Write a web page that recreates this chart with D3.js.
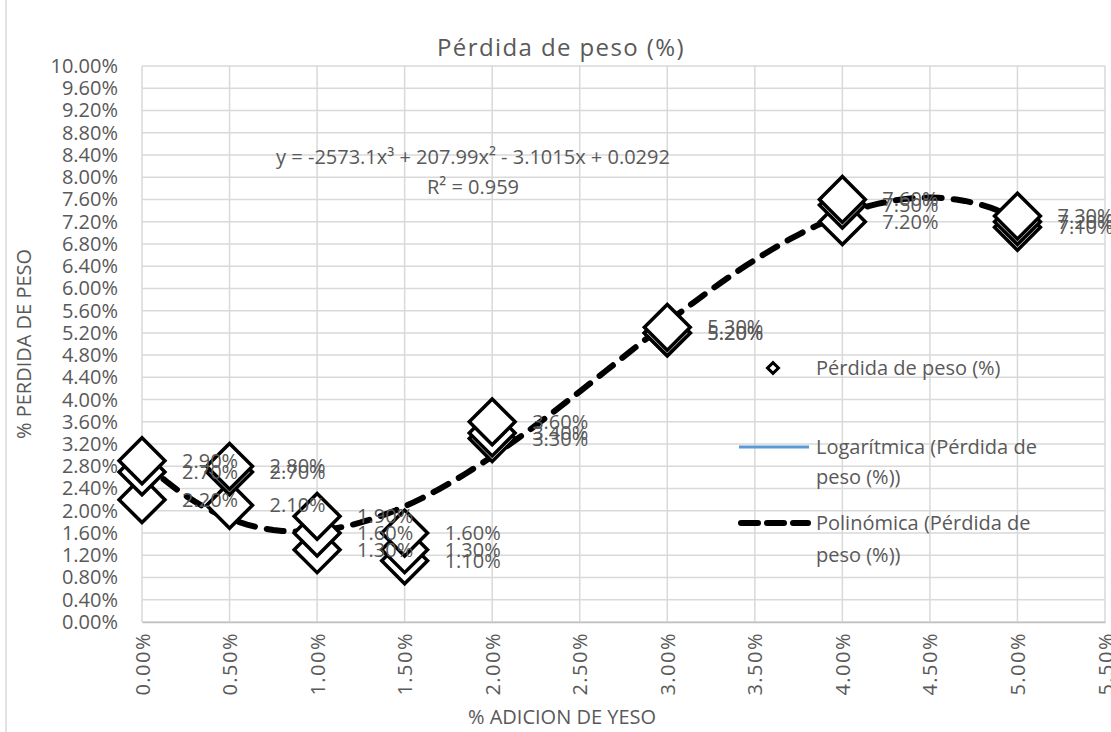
<!DOCTYPE html>
<html>
<head>
<meta charset="utf-8">
<script src="https://cdn.jsdelivr.net/npm/d3@7"></script>
<style>
  body { margin: 0; background: #fff; }
  svg { display: block; font-family: "Open Sans", sans-serif; }
</style>
</head>
<body>
<div id="chart"></div>
<script>
// data
const adicion = [0, 0.005, 0.01, 0.015, 0.02, 0.03, 0.04, 0.05];
const ensayo1 = [0.022, 0.021, 0.013, 0.011, 0.033, 0.052, 0.072, 0.071];
const ensayo2 = [0.027, 0.027, 0.016, 0.013, 0.034, 0.052, 0.075, 0.072];
const ensayo3 = [0.029, 0.028, 0.019, 0.016, 0.036, 0.053, 0.076, 0.073];
const yTicks = d3.range(0, 0.1001, 0.004);
const xTicks = d3.range(0, 0.0551, 0.005);
// trendline coefficients (c0 + c1 x + c2 x^2 + c3 x^3), from the chart label
const polyCoef = [0.0292, -3.1015, 207.99, -2573.1];
const equation = "y = -2573.1x³ + 207.99x² - 3.1015x + 0.0292";
const rSquared = "R² = 0.959";

// constants
const w = 1111;
const h = 732;
const plotLeft = 142, plotRight = 1105, plotTop = 66, plotBottom = 622;
const textColor = "#595959";
const gridColor = "#d9d9d9";
const pct = d3.format(".2%");

const points = [];
[ensayo1, ensayo2, ensayo3].forEach((s) => {
  s.forEach((v, i) => points.push([adicion[i], v]));
});

const svg = d3.select("#chart").append("svg").attr("width", w).attr("height", h);

// scales
const xScale = d3.scaleLinear().domain([0, 0.055]).range([plotLeft, plotRight]);
const yScale = d3.scaleLinear().domain([0, 0.1]).range([plotBottom, plotTop]);

// left border
svg.append("line")
  .attr("x1", 6).attr("x2", 6).attr("y1", 0).attr("y2", h)
  .attr("stroke", gridColor).attr("stroke-width", 1.5);

// grid
svg.append("g")
  .selectAll("line")
  .data(yTicks)
  .enter()
  .append("line")
  .attr("x1", plotLeft).attr("x2", plotRight)
  .attr("y1", (d) => yScale(d)).attr("y2", (d) => yScale(d))
  .attr("stroke", gridColor).attr("stroke-width", 1.5);
svg.append("g")
  .selectAll("line")
  .data(xTicks)
  .enter()
  .append("line")
  .attr("x1", (d) => xScale(d)).attr("x2", (d) => xScale(d))
  .attr("y1", plotTop).attr("y2", plotBottom)
  .attr("stroke", gridColor).attr("stroke-width", 1.5);

// axes
const yAxis = d3.axisLeft(yScale).tickValues(yTicks).tickFormat(pct).tickSize(0).tickPadding(24);
svg.append("g")
  .attr("transform", `translate(${plotLeft},0)`)
  .call(yAxis)
  .call((g) => g.select(".domain").remove())
  .selectAll("text")
  .attr("fill", textColor)
  .style("font-size", "20px")
  .style("font-family", "Open Sans");

const xAxis = d3.axisBottom(xScale).tickValues(xTicks).tickFormat(pct).tickSize(0);
const xg = svg.append("g")
  .attr("transform", `translate(0,${plotBottom})`)
  .call(xAxis);
xg.select(".domain").attr("stroke", "#bfbfbf").attr("stroke-width", 1.5);
xg.selectAll("text")
  .attr("fill", textColor)
  .style("font-size", "20px")
  .style("font-family", "Open Sans")
  .style("letter-spacing", "1.5px")
  .attr("text-anchor", "end")
  .attr("dy", "0.35em")
  .attr("transform", "translate(0,10) rotate(-90)")
  .attr("x", 0).attr("y", 0);

// trend line
const curveX = d3.range(0, 0.05001, 0.0005);
const poly = (x) => polyCoef[0] + polyCoef[1] * x + polyCoef[2] * x * x + polyCoef[3] * x * x * x;
svg.append("path")
  .datum(curveX)
  .attr("d", d3.line().x((d) => xScale(d)).y((d) => yScale(poly(d))))
  .attr("fill", "none")
  .attr("stroke", "#000")
  .attr("stroke-width", 6)
  .attr("stroke-linecap", "round")
  .attr("stroke-dasharray", "17,12");

// markers
const diamond = d3.symbol().type(d3.symbolSquare).size(1050);
svg.append("g")
  .selectAll("path")
  .data(points)
  .enter()
  .append("path")
  .attr("d", diamond)
  .attr("transform", (d) => `translate(${xScale(d[0])},${yScale(d[1])}) rotate(45)`)
  .attr("fill", "#fff")
  .attr("stroke", "#000")
  .attr("stroke-width", 3.5);

// data labels
svg.append("g")
  .selectAll("text")
  .data(points)
  .enter()
  .append("text")
  .attr("x", (d) => xScale(d[0]) + 40)
  .attr("y", (d) => yScale(d[1]))
  .attr("dy", "0.35em")
  .attr("fill", textColor)
  .style("font-size", "20px")
  .text((d) => pct(d[1]));

// title
svg.append("text")
  .attr("x", 561).attr("y", 48)
  .attr("dy", "0.35em")
  .attr("text-anchor", "middle")
  .attr("fill", textColor)
  .style("font-size", "24px")
  .style("letter-spacing", "1.4px")
  .text("Pérdida de peso (%)");

// axis titles
svg.append("text")
  .attr("transform", "translate(24,344) rotate(-90)")
  .attr("text-anchor", "middle")
  .attr("dy", "0.35em")
  .attr("fill", textColor)
  .style("font-size", "20px")
  .text("% PERDIDA DE PESO");
svg.append("text")
  .attr("x", 562).attr("y", 717)
  .attr("text-anchor", "middle")
  .attr("dy", "0.35em")
  .attr("fill", textColor)
  .style("font-size", "20px")
  .text("% ADICION DE YESO");

// equation
svg.append("text")
  .attr("x", 473).attr("y", 157)
  .attr("text-anchor", "middle")
  .attr("dy", "0.35em")
  .attr("fill", textColor)
  .style("font-size", "20px")
  .text(equation);
svg.append("text")
  .attr("x", 473).attr("y", 187)
  .attr("text-anchor", "middle")
  .attr("dy", "0.35em")
  .attr("fill", textColor)
  .style("font-size", "20px")
  .text(rSquared);

// legend
const legend = svg.append("g").attr("transform", "translate(738,0)");
legend.append("path")
  .attr("d", d3.symbol().type(d3.symbolSquare).size(60))
  .attr("transform", "translate(35,368) rotate(45)")
  .attr("fill", "#fff").attr("stroke", "#000").attr("stroke-width", 3);
legend.append("line")
  .attr("x1", 1).attr("x2", 71).attr("y1", 447).attr("y2", 447)
  .attr("stroke", "#5b9bd5").attr("stroke-width", 3);
legend.append("line")
  .attr("x1", 3).attr("x2", 70).attr("y1", 523).attr("y2", 523)
  .attr("stroke", "#000").attr("stroke-width", 6)
  .attr("stroke-linecap", "round").attr("stroke-dasharray", "17,9");
const legendText = [
  ["Pérdida de peso (%)", 368],
  ["Logarítmica (Pérdida de", 447],
  ["peso (%))", 477],
  ["Polinómica (Pérdida de", 523],
  ["peso (%))", 555],
];
legend.selectAll("text.lg")
  .data(legendText)
  .enter()
  .append("text")
  .attr("class", "lg")
  .attr("x", 78)
  .attr("y", (d) => d[1])
  .attr("dy", "0.35em")
  .attr("fill", textColor)
  .style("font-size", "20px")
  .text((d) => d[0]);
</script>
</body>
</html>
